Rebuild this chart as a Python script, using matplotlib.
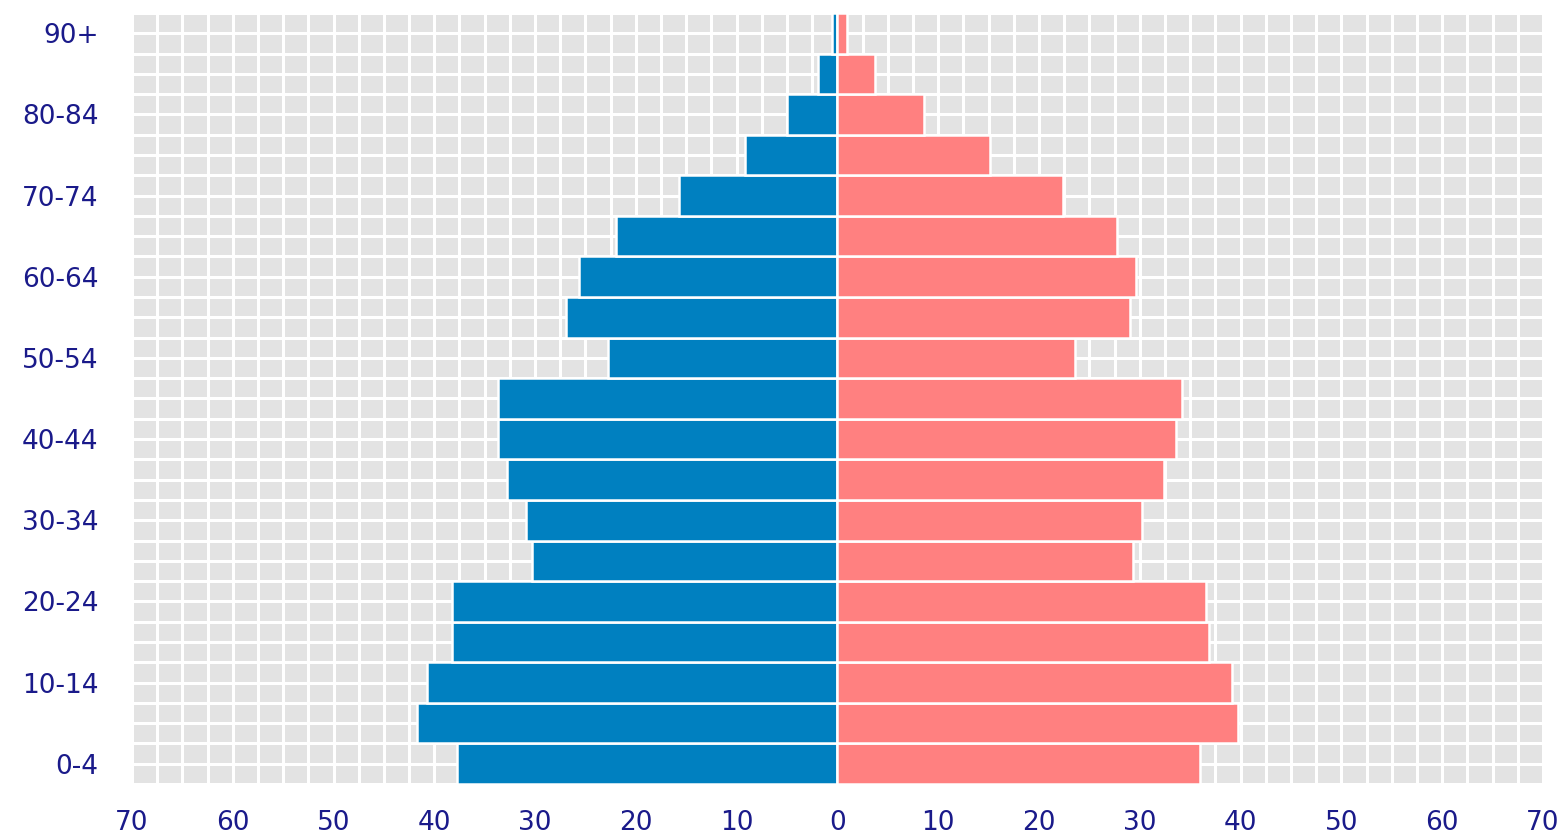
import matplotlib.pyplot as plt
import numpy as np
from matplotlib.ticker import MultipleLocator, FixedLocator

# age groups, bottom to top
ages = ["0-4", "5-9", "10-14", "15-19", "20-24", "25-29", "30-34", "35-39",
        "40-44", "45-49", "50-54", "55-59", "60-64", "65-69", "70-74",
        "75-79", "80-84", "85-89", "90+"]

male = [37.7, 41.7, 40.7, 38.2, 38.2, 30.3, 30.9, 32.8, 33.7, 33.7,
        22.8, 26.9, 25.6, 22.0, 15.7, 9.2, 5.0, 1.9, 0.5]
female = [36.0, 39.7, 39.1, 36.9, 36.6, 29.3, 30.2, 32.4, 33.6, 34.2,
          23.6, 29.0, 29.6, 27.7, 22.4, 15.1, 8.6, 3.7, 0.9]

x_ticks = list(range(-70, 71, 10))

txt_color = "#1a1a8a"

fig = plt.figure(figsize=(15.65, 8.39), dpi=100)
ax = fig.add_axes([0.0843, 0.0656, 0.9016, 0.9189])
ax.set_facecolor("#e3e3e3")

y = np.arange(len(ages))
ax.barh(y, [-m for m in male], height=1.0, color="#0080c0",
        edgecolor="white", linewidth=1.8, zorder=3)
ax.barh(y, female, height=1.0, color="#ff8080",
        edgecolor="white", linewidth=1.8, zorder=3)

ax.set_xlim(-70, 70)
ax.set_ylim(-0.5, len(ages) - 0.5)

ax.xaxis.set_major_locator(FixedLocator(x_ticks))
ax.set_xticklabels([str(abs(v)) for v in x_ticks])
ax.xaxis.set_minor_locator(MultipleLocator(2.5))
ax.set_yticks(y[::2])
ax.set_yticklabels(ages[::2])
ax.yaxis.set_minor_locator(MultipleLocator(0.5))

ax.grid(which="both", color="white", linewidth=2.2)
ax.set_axisbelow(True)

ax.tick_params(which="both", length=0)
ax.tick_params(axis="x", pad=19, labelsize=19, labelcolor=txt_color)
ax.tick_params(axis="y", pad=24, labelsize=19, labelcolor=txt_color)
for s in ax.spines.values():
    s.set_visible(False)

fig.savefig("out.png", dpi=100)
